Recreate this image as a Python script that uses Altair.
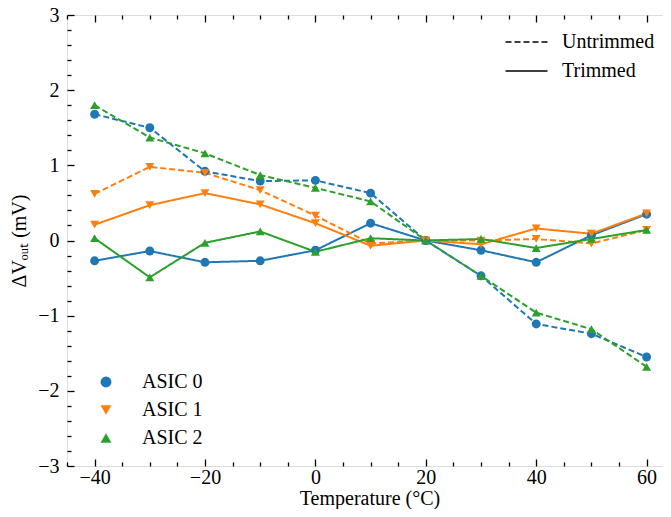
import altair as alt
import pandas as pd

temps = [-40, -30, -20, -10, 0, 10, 20, 30, 40, 50, 60]
asic0_untrimmed = [1.68, 1.50, 0.92, 0.79, 0.80, 0.63, 0.0, -0.47, -1.11, -1.24, -1.55]
asic0_trimmed = [-0.27, -0.14, -0.29, -0.27, -0.13, 0.23, 0.0, -0.13, -0.29, 0.07, 0.35]
asic1_untrimmed = [0.62, 0.98, 0.90, 0.67, 0.33, -0.04, 0.0, 0.0, 0.02, -0.04, 0.14]
asic1_trimmed = [0.21, 0.47, 0.63, 0.48, 0.23, -0.07, 0.0, -0.05, 0.16, 0.09, 0.36]
asic2_untrimmed = [1.80, 1.37, 1.16, 0.87, 0.70, 0.52, 0.0, -0.47, -0.96, -1.18, -1.68]
asic2_trimmed = [0.03, -0.49, -0.03, 0.12, -0.15, 0.03, 0.0, 0.02, -0.10, 0.02, 0.14]

asics = ["ASIC 0", "ASIC 1", "ASIC 2"]
trims = ["Untrimmed", "Trimmed"]
colors = ["#1f77b4", "#ff7f0e", "#2ca02c"]
shapes = ["circle", "triangle-down", "triangle-up"]

series = [
    ("ASIC 0", "Untrimmed", asic0_untrimmed),
    ("ASIC 0", "Trimmed", asic0_trimmed),
    ("ASIC 1", "Untrimmed", asic1_untrimmed),
    ("ASIC 1", "Trimmed", asic1_trimmed),
    ("ASIC 2", "Untrimmed", asic2_untrimmed),
    ("ASIC 2", "Trimmed", asic2_trimmed),
]
rows = []
order = 0
for a, t, vals in series:
    for tx, v in zip(temps, vals):
        rows.append({"temp": tx, "value": v, "asic": a, "trim": t, "grp": f"{a}-{t}", "ord": order})
    order += 1
df = pd.DataFrame(rows)

FONT = "Liberation Serif"
xdom = [-45, 64.6]
ydom = [-3, 3]
x_major = [-40, -20, 0, 20, 40, 60]
x_minor = [-45, -35, -30, -25, -15, -10, -5, 5, 10, 15, 25, 30, 35, 45, 50, 55]
y_major = [-3, -2, -1, 0, 1, 2, 3]
y_minor = [round(-3 + 0.2 * i, 1) for i in range(31) if i % 5 != 0]

xs = alt.Scale(domain=xdom, nice=False, zero=False)
ys = alt.Scale(domain=ydom, nice=False, zero=False)

TW = 1.3


def tick_axis(orient, values, size):
    return alt.Axis(orient=orient, values=values, tickSize=size, offset=-size,
                    labels=False, domain=False, grid=False, title=None,
                    tickColor="black", tickWidth=TW)


asic_legend = alt.Legend(orient="none", legendX=29, legendY=357, title=None,
                         symbolSize=120, symbolStrokeWidth=0, symbolOpacity=1,
                         labelFont=FONT, labelFontSize=20, labelColor="black",
                         labelOffset=26, rowPadding=8, padding=0)

base = alt.Chart(df)

lines = base.mark_line(strokeWidth=2).encode(
    x=alt.X("temp:Q", scale=xs,
            axis=alt.Axis(orient="bottom", values=x_major, ticks=False, domain=False, grid=False,
                          title="Temperature (°C)", labelFont=FONT, labelFontSize=20,
                          labelColor="black", labelPadding=1, titleFont=FONT, titleFontSize=20,
                          titleFontWeight="normal", titleColor="black", titlePadding=1)),
    y=alt.Y("value:Q", scale=ys,
            axis=alt.Axis(orient="left", values=y_major, ticks=False, domain=False, grid=False,
                          title="ΔVₒᵤₜ (mV)", labelFont=FONT, labelFontSize=20,
                          labelColor="black", labelPadding=8, titleFont=FONT, titleFontSize=20,
                          titleFontWeight="normal", titleColor="black", titlePadding=8)),
    color=alt.Color("asic:N", scale=alt.Scale(domain=asics, range=colors), legend=asic_legend),
    strokeDash=alt.StrokeDash("trim:N", scale=alt.Scale(domain=trims, range=[[6, 3], [1, 0]]),
                              legend=alt.Legend(orient="none", legendX=448, legendY=15.5, title=None,
                                                symbolType="M-2,0H2", symbolSize=441,
                                                symbolStrokeColor="black", symbolStrokeWidth=1.5,
                                                labelFont=FONT, labelFontSize=20, labelColor="black",
                                                labelOffset=24, rowPadding=7, padding=0)),
    detail="grp:N",
    order="ord:Q",
)

points = base.mark_point(filled=True, size=80, opacity=1).encode(
    x=alt.X("temp:Q", scale=xs, axis=None),
    y=alt.Y("value:Q", scale=ys, axis=None),
    color=alt.Color("asic:N", scale=alt.Scale(domain=asics, range=colors), legend=asic_legend),
    shape=alt.Shape("asic:N", scale=alt.Scale(domain=asics, range=shapes), legend=asic_legend),
)


def ticks_layer(xo, xv, xsz, yo, yv, ysz):
    return base.mark_point(opacity=0).encode(
        x=alt.X("temp:Q", scale=xs, axis=tick_axis(xo, xv, xsz)),
        y=alt.Y("value:Q", scale=ys, axis=tick_axis(yo, yv, ysz)),
    )


t1 = ticks_layer("bottom", x_major, 7, "left", y_major, 7)
t2 = ticks_layer("bottom", x_minor, 4, "left", y_minor, 4)
t3 = ticks_layer("top", x_major, 7, "right", y_major, 7)
t4 = ticks_layer("top", x_minor, 4, "right", y_minor, 4)

chart = alt.layer(lines, points, t1, t2, t3, t4).resolve_axis(
    x="independent", y="independent"
).properties(
    width=605, height=451,
    autosize=alt.AutoSizeParams(type="none"),
    padding={"left": 59, "top": 7, "right": -9, "bottom": 43},
).configure_view(stroke="black", strokeWidth=TW).configure(background="white")

chart.save("out.html", embed_options={"renderer": "svg", "actions": False})
